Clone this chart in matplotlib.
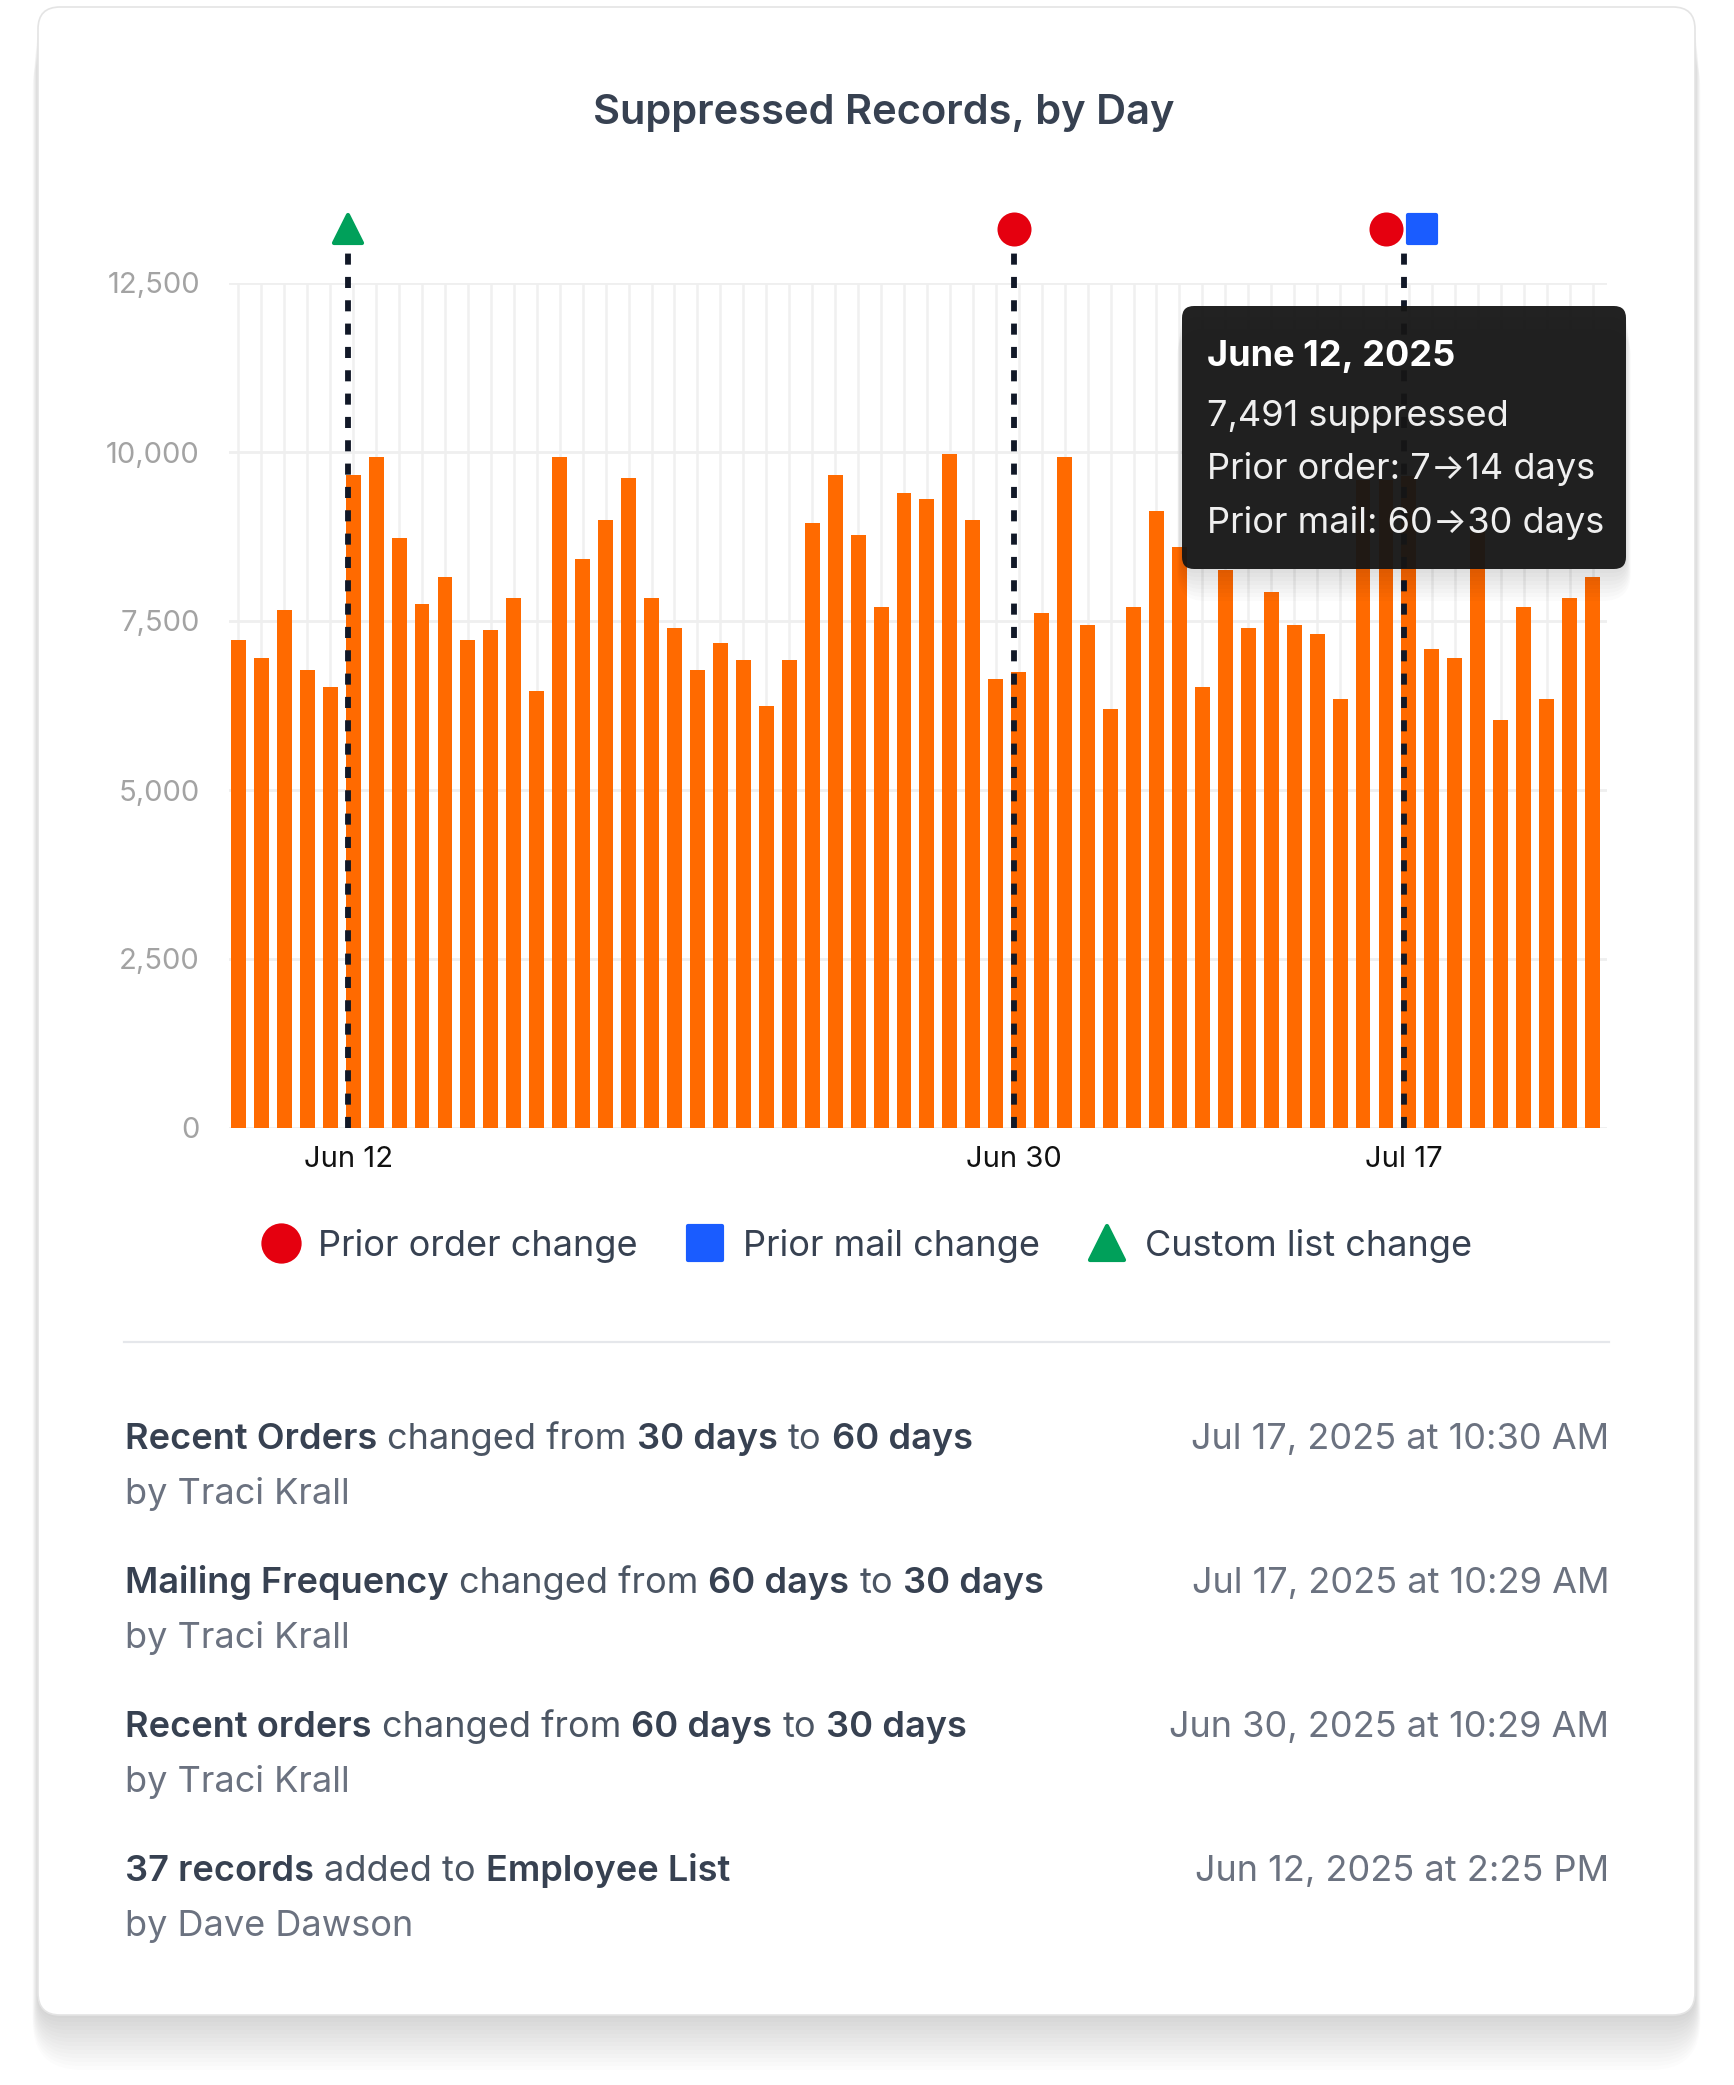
import numpy as np
import matplotlib
matplotlib.use("Agg")
import matplotlib.pyplot as plt
from matplotlib.patches import FancyBboxPatch
from matplotlib.lines import Line2D
from matplotlib.markers import MarkerStyle
from matplotlib.transforms import IdentityTransform
from matplotlib.ticker import FuncFormatter

plt.rcParams['font.family'] = ['Inter', 'DejaVu Sans']

# suppressed records per day
values = [7220, 6960, 7670, 6780, 6520, 9660, 9930, 8730, 7750, 8150,
          7220, 7360, 7840, 6470, 9930, 8420, 8990, 9620, 7840, 7400,
          6780, 7180, 6920, 6250, 6920, 8950, 9660, 8770, 7710, 9390,
          9300, 9970, 8990, 6640, 6740, 7620, 9920, 7440, 6200, 7710,
          9130, 8590, 6520, 8250, 7400, 7930, 7440, 7310, 6340, 9580,
          9580, 9650, 7090, 6960, 8850, 6030, 7710, 6340, 7840, 8150]

tick_bars = [5, 34, 51]
tick_labels = ["Jun 12", "Jun 30", "Jul 17"]

# change events shown as markers above the chart
event_bars = [5, 34, 51]
event_kinds = [["custom"], ["order"], ["order", "mail"]]

legend_kinds = ["order", "mail", "custom"]
legend_labels = ["Prior order change", "Prior mail change", "Custom list change"]

tooltip_title = "June 12, 2025"
tooltip_lines = ["7,491 suppressed", "Prior order: 7\u219214 days", "Prior mail: 60\u219230 days"]

change_texts = [
    [("Recent Orders", True), ("changed from", False), ("30 days", True), ("to", False), ("60 days", True)],
    [("Mailing Frequency", True), ("changed from", False), ("60 days", True), ("to", False), ("30 days", True)],
    [("Recent orders", True), ("changed from", False), ("60 days", True), ("to", False), ("30 days", True)],
    [("37 records", True), ("added to", False), ("Employee List", True)],
]
change_authors = ["by Traci Krall", "by Traci Krall", "by Traci Krall", "by Dave Dawson"]
change_times = ["Jul 17, 2025 at 10:30 AM", "Jul 17, 2025 at 10:29 AM",
                "Jun 30, 2025 at 10:29 AM", "Jun 12, 2025 at 2:25 PM"]

W, H = 1734, 2085
DPI = 100
ORANGE = "#ff6a00"
DARK = "#374151"
GREY = "#6b7280"
LINE_SHIFT = -0.22

kind_style = {
    "order": dict(marker="o", color="#e5000f"),
    "mail": dict(marker="s", color="#1a5cff"),
    "custom": dict(marker="^", color="#00a05a"),
}

fig = plt.figure(figsize=(W / DPI, H / DPI), dpi=DPI)
fig.patch.set_facecolor("white")
pix = IdentityTransform()
renderer = fig.canvas.get_renderer()


def box(x0, y0, x1, y1, r, **kw):
    # rounded box in pixel coords, y measured from the top
    p = FancyBboxPatch((x0 + r, H - y1 + r), x1 - x0 - 2 * r, y1 - y0 - 2 * r,
                       boxstyle=f"round,pad={r},rounding_size={r}", transform=pix, **kw)
    fig.add_artist(p)
    return p


def text(x, y, s, **kw):
    return fig.text(x, H - y, s, transform=pix, **kw)


def text_width(s, **kw):
    t = text(0, H / 2, s, **kw)
    w = t.get_window_extent(renderer).width
    t.remove()
    return w


# card with soft shadow
CARD = (38, 7, 1695, 2015)
for k in range(14):
    s = 3 + k * 4
    box(CARD[0] - s * 0.1, CARD[1] + s * 0.6, CARD[2] + s * 0.1, CARD[3] + s,
        22 + s * 0.5, fc="black", ec="none", alpha=0.010, zorder=-3)
box(*CARD, 22, fc="white", ec="#e4e4e4", lw=1.2, zorder=-2)

text(884, 113, "Suppressed Records, by Day", ha="center", va="center",
     fontsize=30, weight="semibold", color=DARK)

# bar chart
ax = fig.add_axes([229 / W, 1 - 1128 / H, (1607 - 229) / W, (1128 - 283) / H])
ax.set_facecolor("none")
x = np.arange(len(values))
ax.bar(x, values, width=0.65, color=ORANGE, zorder=2)
ax.set_xlim(-0.41, len(values) - 1 + 0.63)
ax.set_ylim(0, 12500)
ax.set_yticks(np.arange(0, 12501, 2500))
ax.yaxis.set_major_formatter(FuncFormatter(lambda v, _: f"{v:,.0f}"))
ax.set_xticks(x, minor=True)
ax.set_xticks([b + LINE_SHIFT for b in tick_bars], tick_labels)
ax.grid(axis="y", color="#efefef", lw=2)
ax.grid(axis="x", which="minor", color="#f0f0f0", lw=1.8)
ax.set_axisbelow(True)
ax.tick_params(which="both", length=0)
ax.tick_params(axis="y", pad=21, labelsize=21, labelcolor="#a3a3a3")
ax.tick_params(axis="x", pad=13, labelsize=21, labelcolor="#111111")
for sp in ax.spines.values():
    sp.set_visible(False)

xt = ax.get_xaxis_transform()
for b, kinds in zip(event_bars, event_kinds):
    xl = b + LINE_SHIFT
    ax.plot([xl, xl], [0, 1.037], transform=xt, color="#111827", lw=4.2,
            ls=(0, (1.9, 2.1)), clip_on=False, zorder=4)
    offsets = [0] if len(kinds) == 1 else [-0.78, 0.78]
    for k, dx in zip(kinds, offsets):
        st = kind_style[k]
        ms = 24.5 if st["marker"] == "o" else 19.5
        ax.plot([xl + dx], [1.064], transform=xt, ls="none",
                marker=MarkerStyle(st["marker"], joinstyle="round"), ms=ms,
                mfc=st["color"], mec=st["color"], mew=0 if st["marker"] == "o" else 3,
                clip_on=False, zorder=5)

# legend
handles = []
for k in legend_kinds:
    st = kind_style[k]
    ms = 29 if st["marker"] == "o" else 24
    handles.append(Line2D([], [], ls="none", marker=MarkerStyle(st["marker"], joinstyle="round"),
                          ms=ms, mfc=st["color"], mec=st["color"],
                          mew=0 if st["marker"] == "o" else 3))
leg = fig.legend(handles, legend_labels, loc="center", bbox_to_anchor=(868 / W, 1 - 1246 / H),
                 ncol=3, frameon=False, fontsize=26, handlelength=0.9, handletextpad=0.6,
                 columnspacing=1.4)
for t in leg.get_texts():
    t.set_color(DARK)

# tooltip
TIP = (1182, 306, 1626, 569)
for k in range(8):
    s = 4 + k * 4
    box(TIP[0] - s * 0.15, TIP[1] + s * 0.7, TIP[2] + s * 0.15, TIP[3] + s,
        12 + s * 0.5, fc="black", ec="none", alpha=0.014, zorder=5)
box(*TIP, 12, fc="#161616", ec="none", alpha=0.95, zorder=6)
text(1207, 366, tooltip_title, fontsize=26, weight="bold", color="white", va="baseline", zorder=7)
for i, line in enumerate(tooltip_lines):
    text(1207, 426 + i * 53.5, line, fontsize=26, color="#efefef", va="baseline", zorder=7)

# separator and change log
fig.add_artist(Line2D([124, 1609], [H - 1342, H - 1342], transform=pix, color="#e5e7eb", lw=1.6))

LIST_SIZE = 26
space = text_width("x x", fontsize=LIST_SIZE) - text_width("xx", fontsize=LIST_SIZE)
for i, segs in enumerate(change_texts):
    y = 1449 + i * 144
    xpos = 125
    for s, bold in segs:
        t = text(xpos, y, s, fontsize=LIST_SIZE, va="baseline",
                 weight="semibold" if bold else "normal",
                 color=DARK if bold else "#4b5563")
        xpos += t.get_window_extent(renderer).width + space
    text(125, y + 55, change_authors[i], fontsize=LIST_SIZE, va="baseline", color=GREY)
    text(1609, y, change_times[i], fontsize=LIST_SIZE, va="baseline", ha="right", color=GREY)

fig.savefig("out.png", dpi=DPI, facecolor="white")
